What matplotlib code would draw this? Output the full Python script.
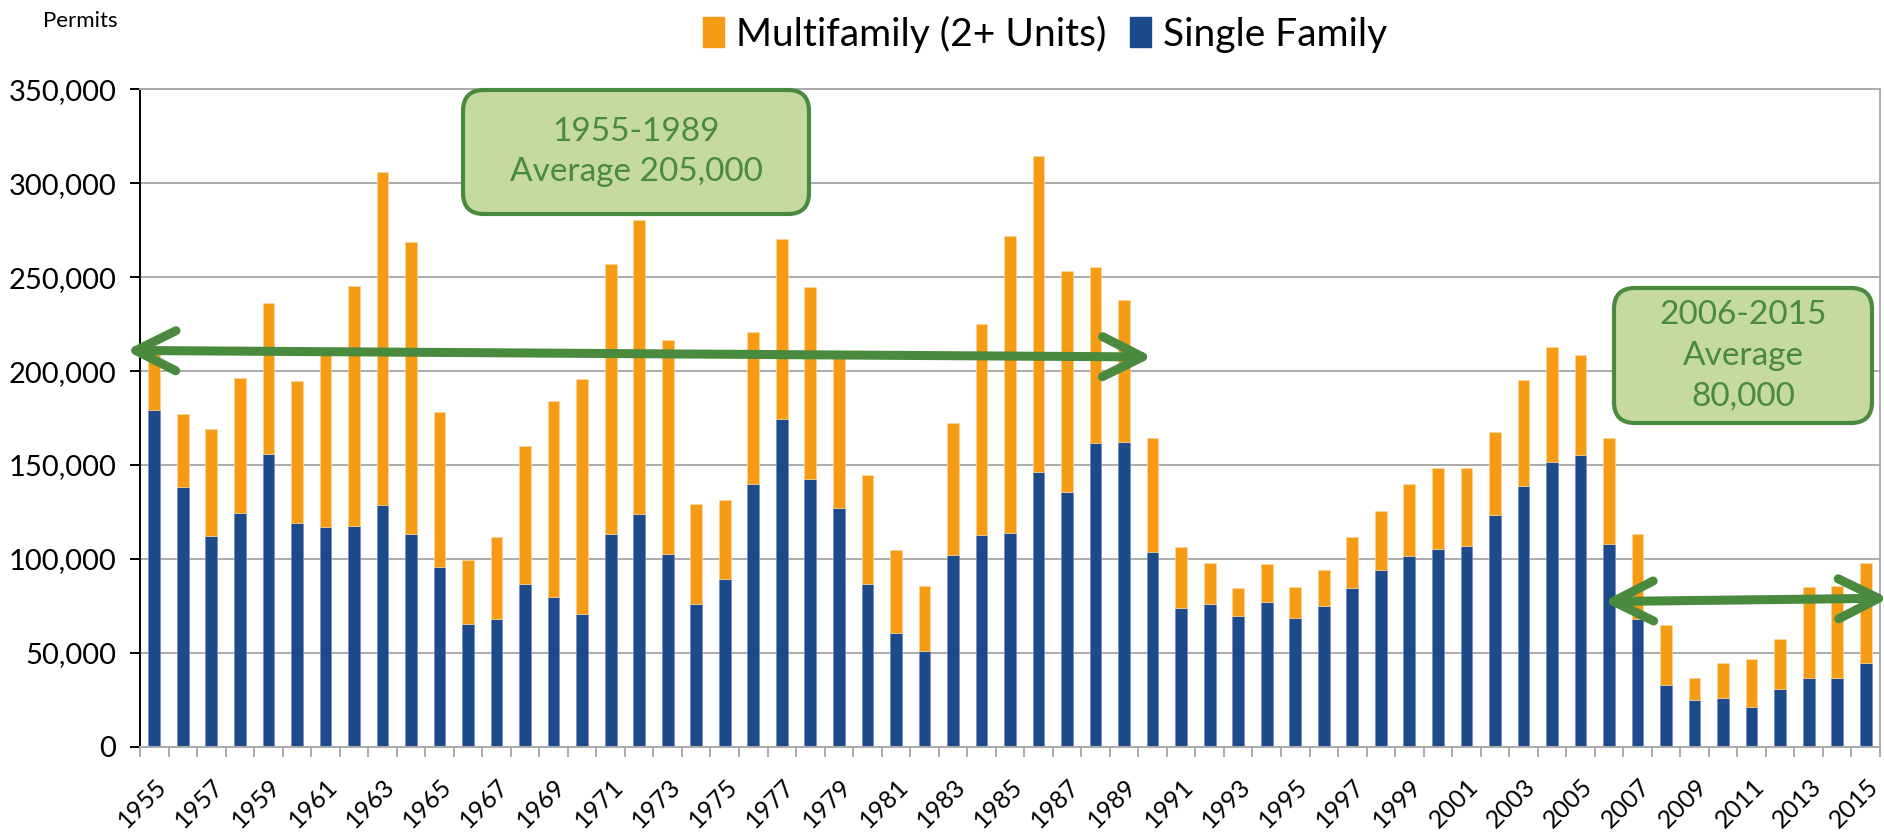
import matplotlib
matplotlib.use("Agg")
import matplotlib.pyplot as plt
from matplotlib.patches import Patch, FancyBboxPatch, FancyArrowPatch, ArrowStyle
from matplotlib.ticker import FuncFormatter

plt.rcParams['font.family'] = ['Lato', 'DejaVu Sans']

years = list(range(1955, 2016))

# thousands of permits
single_family = [179.3, 138.5, 112.2, 124.4, 155.7, 119.1, 116.8, 117.7, 128.7, 113.1,
                 95.5, 65.3, 68.0, 86.6, 79.9, 70.8, 113.1, 124.1, 102.6, 76.1,
                 89.3, 140.0, 174.7, 142.7, 127.3, 86.6, 60.2, 51.1, 102.1, 112.6,
                 114.0, 146.3, 135.8, 161.9, 162.4, 103.7, 73.9, 76.1, 69.4, 77.2,
                 68.7, 74.6, 84.7, 94.1, 101.7, 105.4, 107.0, 123.4, 138.7, 151.4,
                 155.2, 107.9, 68.0, 32.5, 25.0, 25.6, 21.3, 30.7, 36.7, 36.7,
                 44.7]
multifamily = [33.2, 38.5, 57.1, 71.9, 80.4, 75.5, 95.2, 127.6, 177.2, 155.7,
               82.5, 34.2, 43.7, 73.5, 104.2, 124.8, 143.9, 156.2, 114.1, 53.1,
               42.2, 81.0, 95.8, 102.1, 79.7, 58.2, 44.4, 34.6, 70.1, 112.3,
               158.1, 168.4, 117.3, 93.5, 75.3, 60.5, 32.3, 21.5, 15.3, 19.9,
               16.5, 19.5, 27.0, 31.4, 38.3, 43.2, 41.6, 44.2, 56.7, 61.4,
               53.4, 56.3, 45.1, 32.3, 11.4, 18.8, 25.4, 26.5, 48.5, 49.0,
               53.1]

single_family = [v * 1000 for v in single_family]
multifamily = [v * 1000 for v in multifamily]

# average arrows: (year index, permits) start and end
arrow_1955_1989 = [(-1.0, 211000), (35.0, 207500)]
arrow_2006_2015 = [(50.8, 77200), (60.8, 79000)]

BLUE = '#1C4A8B'
ORANGE = '#F59B14'
GREEN = '#4A8A3E'
GREEN_FILL = '#C6D9A0'
GRID = '#ABABAB'

fig = plt.figure(figsize=(18.84, 8.38), dpi=100)
ax = fig.add_axes([140 / 1884, 91.5 / 838, 1740 / 1884, 657 / 838])

x = list(range(len(years)))
ax.bar(x, single_family, width=0.41, color=BLUE, edgecolor='#6F8FC0', linewidth=0.5, zorder=2)
ax.bar(x, multifamily, width=0.41, bottom=single_family, color=ORANGE,
       edgecolor='#FBD69C', linewidth=0.5, zorder=2)

ax.set_xlim(-0.5, len(years) - 0.5)
ax.set_ylim(0, 350000)

# y axis
ax.set_yticks(range(0, 350001, 50000))
ax.yaxis.set_major_formatter(FuncFormatter(lambda v, p: f'{int(v):,}'))
ax.tick_params(axis='y', labelsize=21, length=7, width=1.4, pad=10, color='black')
ax.yaxis.grid(True, color=GRID, linewidth=1.4, zorder=0)
ax.set_axisbelow(True)

# x axis: boundary ticks, labels every other year
ax.set_xticks([i - 0.5 for i in range(len(years) + 1)], minor=True)
ax.set_xticks([i + 0.3 for i in x[::2]])
ax.set_xticklabels([str(y) for y in years[::2]], rotation=45, ha='right', va='center',
                   rotation_mode='anchor', fontsize=18)
ax.tick_params(axis='x', which='major', length=0, pad=26)
ax.tick_params(axis='x', which='minor', length=7, width=1.4, color=GRID)

ax.spines['left'].set_color('black')
ax.spines['left'].set_linewidth(1.4)
for side in ['bottom', 'right', 'top']:
    ax.spines[side].set_color(GRID)
    ax.spines[side].set_linewidth(1.4)

fig.text(118 / 1884, 1 - 21 / 838, 'Permits', ha='right', va='center', fontsize=16)

handles = [Patch(color=ORANGE, label='Multifamily (2+ Units)'),
           Patch(color=BLUE, label='Single Family')]
fig.legend(handles=handles, loc='center', bbox_to_anchor=(1045 / 1884, 1 - 34 / 838),
           ncol=2, frameon=False, fontsize=28, handlelength=0.55, handleheight=0.8,
           handletextpad=0.3, columnspacing=0.6)

# average arrows
for start, end in [arrow_1955_1989, arrow_2006_2015]:
    arr = FancyArrowPatch(start, end, arrowstyle=ArrowStyle('<->', head_length=0.4, head_width=0.2),
                          mutation_scale=72, color=GREEN, linewidth=6.5, capstyle='round',
                          joinstyle='round', shrinkA=0, shrinkB=0, clip_on=False, zorder=4)
    ax.add_patch(arr)

# callout boxes (positions in inches on the figure)
boxes = [((4.63, 6.24, 3.46, 1.24), '1955-1989\nAverage 205,000'),
         ((16.14, 4.15, 2.58, 1.35), '2006-2015\nAverage\n80,000')]
for (bx, by, bw, bh), label in boxes:
    box = FancyBboxPatch((bx, by), bw, bh, boxstyle='round,pad=0,rounding_size=0.21',
                         transform=fig.dpi_scale_trans, facecolor=GREEN_FILL,
                         edgecolor=GREEN, linewidth=3, zorder=5)
    fig.patches.append(box)
    fig.text(bx + bw / 2, by + bh / 2, label, transform=fig.dpi_scale_trans,
             ha='center', va='center', fontsize=24, color=GREEN, linespacing=1.45, zorder=6)

fig.savefig('out.png', dpi=100)
